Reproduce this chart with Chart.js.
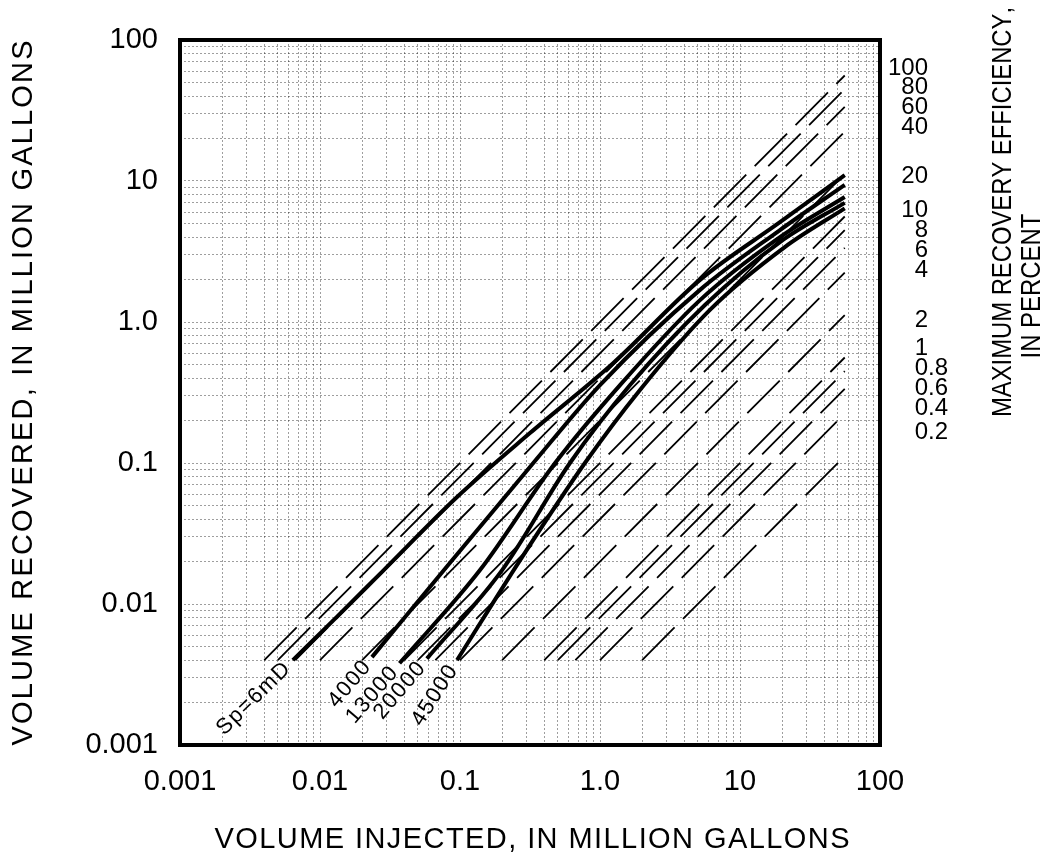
<!DOCTYPE html>
<html>
<head>
<meta charset="utf-8">
<script src="https://cdn.jsdelivr.net/npm/chart.js@4.4.1/dist/chart.umd.min.js"></script>
<style>
  html, body { margin: 0; padding: 0; background: #fff; }
</style>
</head>
<body>
<canvas id="myChart" width="1047" height="862"></canvas>
<script>
// tick labels at the powers of ten
var xTickLabels = ['0.001', '0.01', '0.1', '1.0', '10', '100'];
var yTickLabels = ['0.001', '0.01', '0.1', '1.0', '10', '100'];

// one curve per run, volumes in million gallons
var curveNames = ['Sp=6mD', '4000', '13000', '20000', '45000'];

var injected6mD  = [0.0064, 0.0132, 0.0282, 0.0953, 0.316, 1.24, 5.18, 19.3, 56];
var recovered6mD = [0.0040, 0.0081, 0.0172, 0.0574, 0.163, 0.51, 1.99, 5.1, 11.0];

var injected4000  = [0.0235, 0.0769, 0.316, 1.0, 5.18, 19.3, 56];
var recovered4000 = [0.0042, 0.0174, 0.0937, 0.357, 1.69, 4.49, 9.4];

var injected13000  = [0.037, 0.139, 0.478, 1.39, 5.18, 19.3, 56];
var recovered13000 = [0.0038, 0.0174, 0.1, 0.357, 1.43, 4.0, 7.7];

var injected20000  = [0.058, 0.2, 0.61, 1.64, 5.62, 19.3, 56];
var recovered20000 = [0.0041, 0.0174, 0.1, 0.357, 1.32, 3.69, 7.0];

var injected45000  = [0.0953, 0.269, 0.78, 1.93, 6.1, 20.9, 56];
var recovered45000 = [0.004, 0.0205, 0.1, 0.33, 1.22, 3.4, 6.4];

// maximum recovery efficiency guide lines (percent of volume injected)
var effPct = [100, 80, 60, 40, 20, 10, 8, 6, 4, 2, 1, 0.8, 0.6, 0.4, 0.2];
var effLabels = ['100', '80', '60', '40', '20', '10', '8', '6', '4', '2', '1', '0.8', '0.6', '0.4', '0.2'];
// recovered volume at which each percent label is printed on the right side
var effLabelAt = [63.3, 46.4, 33.5, 24.2, 10.7, 6.23, 4.49, 3.24, 2.34, 1.03, 0.654, 0.472, 0.34, 0.245, 0.166];
var guideFromRecovered = 0.004;   // guide lines start at this recovered volume
var guideToInjected = 56;         // ... and stop at this injected volume

var FONT = "'Liberation Sans', Arial, sans-serif";

function pairUp(xs, ys) {
  return xs.map(function (x, i) { return { x: x, y: ys[i] }; });
}

var curveData = [
  pairUp(injected6mD, recovered6mD),
  pairUp(injected4000, recovered4000),
  pairUp(injected13000, recovered13000),
  pairUp(injected20000, recovered20000),
  pairUp(injected45000, recovered45000)
];

var datasets = [];
curveData.forEach(function (d, i) {
  datasets.push({
    label: curveNames[i],
    data: d,
    showLine: true,
    borderColor: '#000',
    borderWidth: 4,
    pointRadius: 0,
    cubicInterpolationMode: 'monotone',
    isCurve: true
  });
});
effPct.forEach(function (p) {
  var f = p / 100;
  datasets.push({
    label: p + '%',
    data: [{ x: guideFromRecovered / f, y: guideFromRecovered }, { x: guideToInjected, y: guideToInjected * f }],
    showLine: true,
    borderColor: '#000',
    borderWidth: 1.8,
    borderDash: [46, 12],
    pointRadius: 0
  });
});

// log paper ticks: 1..9 in every decade
function logPaper(scale) {
  var t = [];
  for (var e = -3; e <= 2; e++) {
    for (var m = 1; m <= 9; m++) {
      var v = +(m * Math.pow(10, e)).toPrecision(3);
      if (v > 100.0001) break;
      t.push({ value: v });
    }
  }
  scale.ticks = t;
}

function decadeLabel(labels) {
  return function (v) {
    var lg = Math.log10(v);
    if (Math.abs(lg - Math.round(lg)) < 1e-6) return labels[Math.round(lg) + 3];
    return '';
  };
}

// draws a title stretched (with gaps) or squeezed to a given length
function fitText(ctx, text, cx, cy, rot, font, width) {
  ctx.save();
  ctx.translate(cx, cy);
  ctx.rotate(rot);
  ctx.font = font;
  ctx.textAlign = 'left';
  ctx.textBaseline = 'middle';
  var natural = 0;
  for (var i = 0; i < text.length; i++) natural += ctx.measureText(text[i]).width;
  var gap = (width - natural) / (text.length - 1);
  if (gap < 0) {
    ctx.scale(width / natural, 1);
    gap = 0;
    width = natural;
  }
  var x = -width / 2;
  for (var j = 0; j < text.length; j++) {
    ctx.fillText(text[j], x, 0);
    x += ctx.measureText(text[j]).width + gap;
  }
  ctx.restore();
}

var decor = {
  id: 'decor',
  afterDatasetsDraw: function (chart) {
    var ctx = chart.ctx, a = chart.chartArea, ys = chart.scales.y;
    ctx.save();
    ctx.fillStyle = '#000';

    // curve names, written along the start of each curve, below it
    ctx.font = '22px ' + FONT;
    chart.data.datasets.forEach(function (ds, i) {
      if (!ds.isCurve) return;
      var pts = chart.getDatasetMeta(i).data;
      var p0 = pts[0], p1 = pts[1];
      var ang = Math.atan2(p1.y - p0.y, p1.x - p0.x);
      ctx.save();
      ctx.translate(p0.x, p0.y);
      ctx.rotate(ang);
      ctx.letterSpacing = '1.5px';
      ctx.textAlign = 'right';
      ctx.textBaseline = 'middle';
      ctx.fillText(ds.label, -7, 0);
      ctx.restore();
    });

    // heavy frame
    ctx.strokeStyle = '#000';
    ctx.lineWidth = 4;
    ctx.strokeRect(a.left, a.top, a.right - a.left, a.bottom - a.top);

    // percent labels on the right, lined up on the units digit
    ctx.font = '24px ' + FONT;
    ctx.textBaseline = 'middle';
    effLabels.forEach(function (s, i) {
      var y = ys.getPixelForValue(effLabelAt[i]);
      var parts = s.split('.');
      ctx.textAlign = 'right';
      ctx.fillText(parts[0], 928, y);
      if (parts.length > 1) {
        ctx.textAlign = 'left';
        ctx.fillText('.' + parts[1], 928, y);
      }
    });

    // axis titles
    var tf = '29px ' + FONT;
    fitText(ctx, 'VOLUME INJECTED, IN MILLION GALLONS', 532, 840, 0, tf, 635);
    fitText(ctx, 'VOLUME RECOVERED, IN MILLION GALLONS', 24, 393, -Math.PI / 2, tf, 705);
    fitText(ctx, 'MAXIMUM RECOVERY EFFICIENCY,', 1003, 212, -Math.PI / 2, '28px ' + FONT, 410);
    fitText(ctx, 'IN PERCENT', 1032, 286, -Math.PI / 2, '28px ' + FONT, 145);
    ctx.restore();
  }
};

var gridOpts = { color: 'rgba(0,0,0,0.38)', lineWidth: 1, drawTicks: false };

var ctx = document.getElementById('myChart').getContext('2d');
var myChart = new Chart(ctx, {
  type: 'scatter',
  data: { datasets: datasets },
  options: {
    responsive: false,
    animation: false,
    devicePixelRatio: 1,
    layout: { padding: { left: 0, right: 167, top: 40, bottom: 0 } },
    plugins: { legend: { display: false }, tooltip: { enabled: false } },
    scales: {
      x: {
        type: 'logarithmic',
        min: 0.001, max: 100,
        afterBuildTicks: logPaper,
        afterFit: function (s) { s.height = 117; },
        grid: gridOpts,
        border: { display: false, dash: [2, 2] },
        ticks: {
          autoSkip: false, maxRotation: 0, minRotation: 0, padding: 20,
          color: '#000', font: { family: FONT, size: 29 },
          callback: decadeLabel(xTickLabels)
        }
      },
      y: {
        type: 'logarithmic',
        min: 0.001, max: 100,
        afterBuildTicks: logPaper,
        afterFit: function (s) { s.width = 180; },
        grid: gridOpts,
        border: { display: false, dash: [2, 2] },
        ticks: {
          autoSkip: false, padding: 22,
          color: '#000', font: { family: FONT, size: 29 },
          callback: decadeLabel(yTickLabels)
        }
      }
    }
  },
  plugins: [decor]
});
</script>
</body>
</html>
